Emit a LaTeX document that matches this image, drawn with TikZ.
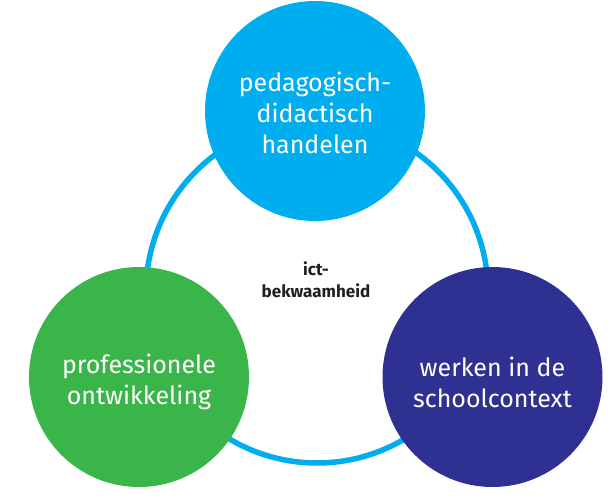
\documentclass[tikz,border=0pt]{standalone}
\usepackage{fontspec}
\setmainfont{Fira Sans}
\definecolor{topblue}{HTML}{00AEEF}
\definecolor{leafgreen}{HTML}{3AB54A}
\definecolor{deepnavy}{HTML}{2E3192}
\definecolor{inkdark}{HTML}{231F20}
\tikzset{
  bigdisc/.style={circle, minimum size=220pt, inner sep=0pt},
  disctext/.style={text=white, align=center, font=\fontsize{25}{31}\selectfont},
  ringline/.style={circle, draw=topblue, line width=5.5pt, minimum size=342pt, inner sep=0pt},
  coretext/.style={text=inkdark, align=center, font=\bfseries\fontsize{17}{22}\selectfont}
}
\begin{document}
\begin{tikzpicture}[x=1pt,y=-1pt]
\useasboundingbox (0,0) rectangle (616,498);
\node[ringline] (ring) at (317,292) {};
\node[bigdisc, fill=topblue] (top) at (315,111) {};
\node[bigdisc, fill=leafgreen] (left) at (139,377) {};
\node[bigdisc, fill=deepnavy] (right) at (492.5,377) {};
\node[disctext] (toptext) at (315,113) {pedagogisch-\\didactisch\\handelen};
\node[disctext] (lefttext) at (139,382) {professionele\\ontwikkeling};
\node[disctext] (righttext) at (492.5,382) {werken in de\\schoolcontext};
\node[coretext] (core) at (316,280) {ict-\\bekwaamheid};
\end{tikzpicture}
\end{document}
